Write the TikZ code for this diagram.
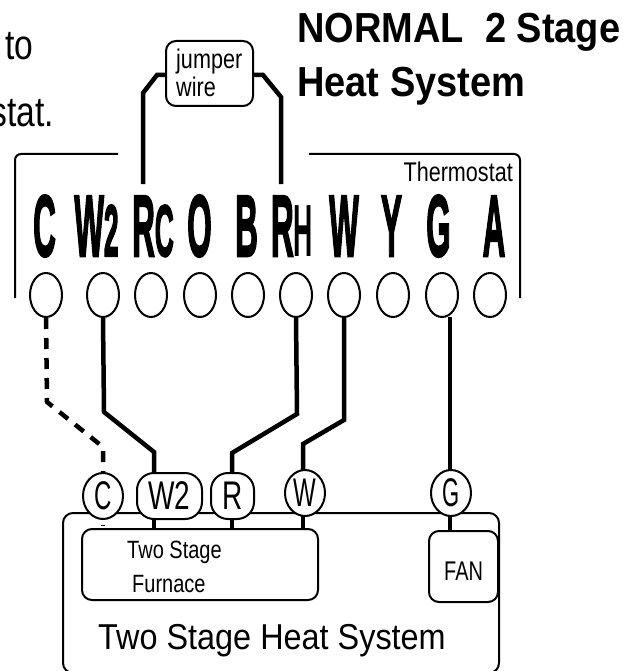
\documentclass[tikz,border=0pt]{standalone}
\usepackage{graphicx}
\usepackage{fontspec}
\setmainfont{Liberation Sans}
\newfontfamily\heavyfam[BoldFeatures={FakeBold=3}]{Liberation Sans}
\usetikzlibrary{shapes.geometric}
\newcommand{\tf}[3]{{\fontsize{#1pt}{#1pt}\selectfont\scalebox{#2}[1]{#3}}}
\newcommand{\tb}[3]{{\fontsize{#1pt}{#1pt}\selectfont\bfseries\scalebox{#2}[1]{#3}}}
\newcommand{\tv}[3]{{\heavyfam\fontsize{#1pt}{#1pt}\selectfont\bfseries\scalebox{#2}[1]{#3}}}
\newcommand{\bigL}[1]{\tv{87}{0.36}{#1}}
\newcommand{\smlL}[1]{\tv{73}{0.36}{#1}}
\tikzset{
  x=1pt,y=-1pt,
  thin line/.style={draw=black,line width=2pt},
  wire/.style={draw=black,line width=4.5pt,line join=miter},
  dwire/.style={wire,dash pattern=on 11pt off 9pt},
  lbl/.style={inner sep=0pt,anchor=base west},
  bigl/.style={inner sep=0pt,anchor=base},
  term/.style={ellipse,thin line,fill=white,minimum width=32pt,minimum height=44pt,inner sep=0pt},
  tag/.style={ellipse,thin line,fill=white,minimum width=40pt,minimum height=46pt,inner sep=0pt},
  rtag/.style={rectangle,rounded corners=17pt,thin line,fill=white,minimum height=46pt,inner sep=0pt},
  box/.style={rectangle,rounded corners=10pt,thin line,fill=white,inner sep=0pt},
}
\begin{document}
\begin{tikzpicture}
\clip (0,0) rectangle (639,671);
% Outer system box
\node[box,minimum width=436pt,minimum height=160pt] (sys) at (281,593) {};
% Thermostat frame
\draw[thin line,rounded corners=6pt] (118,154) -- (15,154) -- (15,298);
\draw[thin line,rounded corners=6pt] (309,154) -- (520,154) -- (520,298);
% Text
\node[lbl] (to) at (5,60) {\tf{42}{0.8}{to}};
\node[inner sep=0pt,anchor=base east] (stat) at (54,127) {\tf{42}{0.8}{stat.}};
\node[lbl] (h1) at (297,43) {\tb{42}{0.905}{NORMAL\ \ 2 Stage}};
\node[lbl] (h2) at (297,97) {\tb{42}{0.905}{Heat System}};
\node[inner sep=0pt,anchor=base east] (th) at (513,181) {\tf{27}{0.8}{Thermostat}};
% Terminal letters
\node[bigl] (lC) at (44.5,256) {\bigL{C}};
\node[bigl] (lW2) at (96.5,256) {\bigL{W}\smlL{2}};
\node[bigl] (lRc) at (153,256) {\bigL{R}\smlL{C}};
\node[bigl] (lO) at (199.5,256) {\bigL{O}};
\node[bigl] (lB) at (246.5,256) {\bigL{B}};
\node[bigl] (lRh) at (292,256) {\bigL{R}\tb{74}{0.36}{H}};
\node[bigl] (lW) at (344,256) {\bigL{W}};
\node[bigl] (lY) at (391.5,256) {\bigL{Y}};
\node[bigl] (lG) at (438.5,256) {\bigL{G}};
\node[bigl] (lA) at (494,256) {\bigL{A}};
% Terminals
\node[term] (tC) at (46,295) {};
\node[term] (tW2) at (103,295) {};
\node[term] (tRc) at (151,295) {};
\node[term] (tO) at (200,295) {};
\node[term] (tB) at (248,295) {};
\node[term] (tRh) at (296,295) {};
\node[term] (tW) at (344,295) {};
\node[term] (tY) at (393,295) {};
\node[term] (tG) at (442,295) {};
\node[term] (tA) at (490,295) {};
% Jumper
\node[box,minimum width=87pt,minimum height=65pt] (jump) at (209.5,73.5) {};
\coordinate (jl) at (143,184);
\coordinate (jr) at (281,184);
\draw[wire] (jl) -- (143,93) -- (157,75) -- (jump.west |- 0,75);
\draw[wire] (jr) -- (281,97) -- (263,75) -- (jump.east |- 0,75);
\node[lbl] (j1) at (176,69) {\tf{27}{0.8}{jumper}};
\node[lbl] (j2) at (176,97) {\tf{27}{0.8}{wire}};
% Furnace and fan
\node[box,minimum width=236pt,minimum height=71pt] (furn) at (200,564.5) {};
\node[box,minimum width=69pt,minimum height=71pt] (fan) at (463.5,566.5) {};
\node[lbl] (f1) at (127,558) {\tf{25}{0.8}{Two Stage}};
\node[lbl] (f2) at (132,592) {\tf{25}{0.8}{Furnace}};
\node[lbl] (fn) at (444,580) {\tf{27}{0.74}{FAN}};
\node[lbl] (sy) at (98,649) {\tf{36}{0.9}{Two Stage Heat System}};
% Wires
\coordinate (dotC) at (103,526);
\draw[dwire] (tC.south) -- (47,402) -- (103,447) -- (103,473);
\draw[wire] (103,525) -- (dotC);
\draw[wire] (tW2.south) -- (104,412) -- (154,452) -- (154,480);
\draw[wire] (tRh.south) -- (297,414) -- (232,453) -- (232,480);
\draw[wire] (tW.south) -- (344,420) -- (303,444) -- (303,480);
\draw[wire] (450,317) -- (450,480);
\draw[wire] (154,510) -- (154,0 |- furn.north);
\draw[wire] (232,510) -- (232,0 |- furn.north);
\draw[wire] (303,510) -- (303,0 |- furn.north);
\draw[wire] (450,510) -- (450,0 |- fan.north);
% Wire tags
\node[tag] (nC) at (103,496) {\tf{40}{0.6}{C}};
\node[rtag,minimum width=65pt] (nW2) at (169.5,496) {\tf{40}{0.7}{W2}};
\node[rtag,minimum width=43pt] (nR) at (232.5,496) {\tf{40}{0.7}{R}};
\node[tag] (nW) at (305,493) {\tf{40}{0.6}{W}};
\node[tag] (nG) at (451,493) {\tf{40}{0.55}{G}};
\end{tikzpicture}
\end{document}
